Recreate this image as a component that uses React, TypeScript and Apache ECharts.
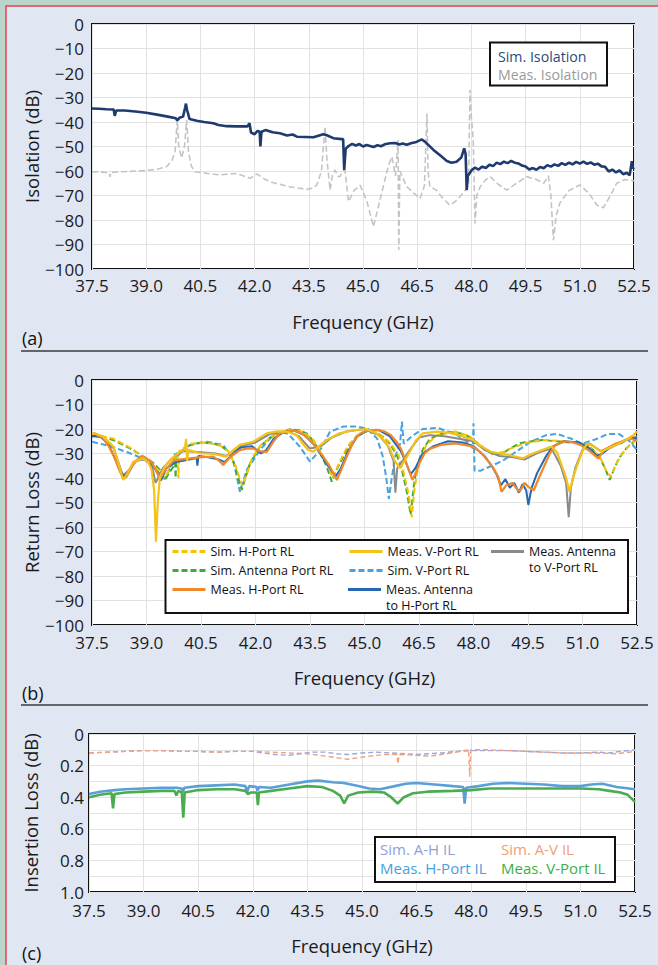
import React, { useEffect, useRef } from "react";
import * as echarts from "echarts";

type Pt = [number, number];

// ---------- Panel (a): Isolation ----------
const simIsolation: Pt[] = [
  [37.5, -34.5], [37.7, -34.6], [37.9, -34.8], [38.1, -34.9], [38.13, -37.5], [38.17, -35.3], [38.4, -35.3],
  [38.7, -35.7], [39.0, -36.2], [39.3, -37], [39.6, -37.8], [39.82, -38.5], [39.86, -39.4], [39.92, -38.3],
  [40.02, -37.8], [40.08, -34], [40.1, -32.5], [40.13, -35], [40.2, -38.8], [40.4, -39.5], [40.6, -40],
  [40.86, -40.5], [41.0, -41.2], [41.23, -41.7], [41.5, -41.8], [41.8, -41.8], [41.86, -40.5], [41.9, -44.3],
  [42.0, -45], [42.08, -43.6], [42.14, -44], [42.16, -50], [42.19, -44], [42.3, -43.3], [42.5, -44.2],
  [42.7, -44.6], [42.9, -45.5], [43.05, -45.1], [43.17, -46], [43.4, -46.1], [43.63, -46.2], [43.9, -45],
  [44.0, -45.4], [44.18, -46.6], [44.41, -47], [44.45, -47], [44.48, -59.6], [44.52, -51], [44.6, -49.8],
  [44.7, -48.9], [44.8, -49.6], [44.9, -49], [45.0, -50], [45.1, -49.4], [45.29, -50.2], [45.4, -49.5],
  [45.5, -49.9], [45.6, -49.1], [45.75, -48.7], [45.9, -48.6], [46.0, -49.2], [46.1, -48.8], [46.21, -49.3],
  [46.35, -48.6], [46.45, -48.3], [46.63, -47.1], [46.75, -48.5], [46.95, -51.4], [47.15, -53.8], [47.32, -55.9],
  [47.45, -56.6], [47.59, -56.2], [47.72, -54.5], [47.8, -50.8], [47.84, -53], [47.87, -67.8], [47.9, -62],
  [48.01, -59.6], [48.1, -58.6], [48.2, -59.4], [48.3, -58.2], [48.4, -58.8], [48.5, -57.4], [48.6, -58],
  [48.7, -56.6], [48.8, -57.2], [48.9, -56.2], [49.0, -56.8], [49.1, -55.9], [49.2, -56.6], [49.3, -56.9],
  [49.4, -57.8], [49.5, -58.2], [49.6, -59.4], [49.7, -58.8], [49.8, -59.5], [49.9, -58.4], [50.0, -58.9],
  [50.1, -57.6], [50.2, -58.2], [50.3, -57.3], [50.4, -57.9], [50.5, -56.8], [50.6, -57.5], [50.7, -56.6],
  [50.8, -57.3], [50.9, -56.3], [51.0, -57], [51.1, -56.2], [51.2, -57.1], [51.3, -56.5], [51.4, -57.4],
  [51.5, -57], [51.6, -58.1], [51.7, -58.3], [51.8, -60.2], [51.9, -59.4], [52.0, -60.6], [52.1, -59.8],
  [52.2, -61.3], [52.3, -60.7], [52.38, -61.8], [52.44, -56], [52.47, -59], [52.5, -58.5],
];

const measIsolation: Pt[] = [
  [37.5, -60.3], [37.8, -60.5], [37.98, -60.8], [38.0, -62.4], [38.03, -60.5], [38.5, -60.2], [39.0, -59.8],
  [39.3, -59.3], [39.57, -58.2], [39.72, -55.5], [39.8, -52], [39.86, -39.2], [39.9, -50], [39.98, -54.7],
  [40.06, -50], [40.12, -39.2], [40.17, -52], [40.25, -58], [40.35, -60.3], [40.7, -61], [41.04, -61.6],
  [41.3, -61.2], [41.5, -61], [41.7, -62], [41.87, -63], [42.06, -61.2], [42.3, -63.5], [42.52, -64.8],
  [43.0, -66.5], [43.44, -67.5], [43.6, -67], [43.72, -65.8], [43.85, -60], [43.95, -41.9], [44.0, -55],
  [44.09, -67.8], [44.16, -61], [44.23, -59.6], [44.3, -62], [44.36, -62.4], [44.44, -60], [44.5, -59.6],
  [44.6, -72.5], [44.75, -68], [44.92, -65.8], [45.1, -72], [45.29, -82.7], [45.5, -70], [45.7, -58],
  [45.8, -54.2], [45.9, -62], [45.97, -47.3], [45.99, -92.2], [46.02, -60], [46.21, -66.4], [46.4, -69],
  [46.58, -71.2], [46.7, -66], [46.77, -36.5], [46.8, -60], [46.85, -66.4], [47.03, -67.8], [47.2, -71],
  [47.4, -73.9], [47.55, -72.5], [47.68, -70.5], [47.85, -67.5], [47.92, -66], [47.96, -26.9], [48.0, -38],
  [48.05, -47], [48.1, -81.4], [48.15, -70], [48.24, -66.5], [48.4, -63.5], [48.52, -62.3], [48.75, -65.5],
  [48.98, -67.8], [49.25, -65], [49.53, -62.3], [49.8, -63.5], [50.0, -65], [50.13, -62], [50.2, -70],
  [50.27, -88.2], [50.35, -78], [50.45, -73], [50.7, -68], [51.0, -65.7], [51.25, -69], [51.47, -73.9],
  [51.65, -75], [51.85, -70], [52.02, -65], [52.25, -63.5], [52.5, -64],
];

// ---------- Panel (b): Return loss ----------
const simHPortRL: Pt[] = [
  [37.5, -22], [38.1, -24], [38.6, -28], [39.0, -32.5], [39.35, -37], [39.5, -40], [39.65, -36], [39.85, -30],
  [39.88, -40], [39.9, -29], [40.2, -26], [40.6, -25.5], [41.0, -26.5], [41.25, -29], [41.45, -35], [41.63, -43],
  [41.75, -39], [41.9, -32], [42.15, -26.5], [42.5, -22.5], [42.9, -20.2], [43.3, -21], [43.6, -24.5],
  [43.8, -29.5], [44.0, -35], [44.12, -40], [44.3, -34], [44.5, -28], [44.8, -22.5], [45.1, -20.5], [45.4, -22],
  [45.7, -25.5], [45.95, -31], [46.1, -39], [46.22, -47], [46.3, -56], [46.38, -44], [46.5, -34], [46.7, -26.5],
  [47.0, -22.5], [47.5, -21], [47.9, -23], [48.2, -27], [48.5, -30], [48.8, -29.5], [49.1, -27.5], [49.5, -25.5],
  [50.0, -24.5], [50.5, -25], [51.0, -26], [51.3, -28.5], [51.5, -32], [51.65, -37], [51.78, -39.5], [51.9, -35],
  [52.1, -30], [52.3, -26.5], [52.5, -24],
];

const simAntennaRL: Pt[] = [
  [37.5, -22.4], [38.09, -24.5], [38.55, -27.9], [39.0, -32], [39.2, -34], [39.37, -36.7], [39.51, -40.8],
  [39.62, -38], [39.74, -35.4], [39.78, -30], [39.8, -40], [39.83, -30], [39.95, -29], [40.2, -26.5],
  [40.5, -25.5], [40.84, -25.9], [41.05, -27], [41.21, -28.6], [41.35, -32], [41.44, -35.4], [41.62, -44.9],
  [41.72, -40], [41.85, -34], [42.12, -27.2], [42.4, -23.5], [42.67, -21.8], [42.95, -20.1], [43.2, -20.5],
  [43.41, -21.8], [43.6, -25], [43.78, -29.9], [43.95, -35], [44.1, -41.5], [44.25, -36], [44.42, -31.3],
  [44.6, -26], [44.79, -23.1], [45.0, -21], [45.25, -21.5], [45.5, -23], [45.7, -26], [45.9, -31], [46.05, -38],
  [46.17, -46], [46.27, -55], [46.36, -43], [46.45, -35], [46.6, -28.5], [46.8, -24], [47.1, -22], [47.5, -21.2],
  [47.8, -22.5], [48.05, -25], [48.3, -28], [48.55, -30.5], [48.8, -30], [49.0, -28], [49.3, -25.7], [49.6, -25],
  [49.9, -24.5], [50.3, -25], [50.7, -25.5], [51.0, -26], [51.25, -28], [51.45, -31], [51.62, -36], [51.75, -40.8],
  [51.88, -36], [52.0, -32], [52.2, -28], [52.5, -24],
];

const measHPortRL: Pt[] = [
  [37.5, -22], [37.58, -21.8], [37.8, -23.5], [37.96, -27], [38.1, -31], [38.25, -36.7], [38.36, -40.3],
  [38.45, -39.5], [38.6, -35], [38.82, -31.3], [39.0, -32], [39.14, -33.5], [39.25, -36.5], [39.37, -40.5],
  [39.5, -37], [39.74, -33], [39.9, -32.5], [40.2, -32], [40.5, -31.5], [40.84, -31.3], [41.0, -33],
  [41.11, -34.7], [41.3, -31.5], [41.57, -28.6], [41.75, -28], [41.94, -28], [42.1, -29], [42.31, -29.3],
  [42.5, -25], [42.67, -21.8], [43.04, -20.4], [43.3, -22], [43.59, -25.9], [43.85, -31], [44.05, -35.4],
  [44.24, -40.8], [44.35, -37], [44.51, -31.3], [44.7, -25], [44.88, -21.8], [45.1, -20.5], [45.36, -20.3],
  [45.55, -21], [45.72, -22.4], [45.9, -25.5], [46.02, -28.6], [46.2, -36], [46.32, -40.8], [46.45, -36.5],
  [46.51, -34], [46.65, -30], [46.81, -28], [47.1, -26.5], [47.5, -25.9], [47.75, -26.5], [47.99, -27.2],
  [48.2, -29.5], [48.38, -32.7], [48.55, -36], [48.68, -39.5], [48.77, -45.6], [48.9, -43], [49.07, -42],
  [49.17, -44], [49.27, -45.6], [49.41, -42], [49.5, -43.5], [49.66, -45], [49.8, -40], [49.95, -35],
  [50.1, -30], [50.25, -26.5], [50.54, -25], [50.75, -25.5], [50.94, -26.5], [51.2, -29], [51.43, -32],
  [51.6, -28.5], [51.92, -25.9], [52.1, -25], [52.31, -23.8], [52.5, -25],
];

const measVPortRL: Pt[] = [
  [37.5, -22], [37.58, -21.8], [37.8, -23], [38.09, -27.2], [38.25, -35], [38.36, -40.8], [38.48, -38],
  [38.64, -33.3], [38.91, -32], [39.05, -33.5], [39.14, -36.7], [39.21, -45], [39.26, -66], [39.31, -50],
  [39.37, -39.5], [39.5, -35.5], [39.65, -32.7], [39.92, -29.3], [40.05, -28.5], [40.09, -24], [40.12, -33],
  [40.15, -28.5], [40.47, -29.9], [40.84, -30.2], [41.2, -31.3], [41.4, -28.5], [41.57, -26.5], [41.94, -25.2],
  [42.31, -21.8], [42.6, -21], [42.86, -21.1], [43.13, -22.4], [43.3, -26], [43.45, -28.6], [43.59, -29.3],
  [43.75, -27], [43.96, -24.5], [44.3, -21.8], [44.7, -20.5], [45.04, -20], [45.3, -21.5], [45.53, -24.5],
  [45.7, -28], [45.82, -32.7], [45.97, -36], [46.1, -33], [46.22, -30], [46.4, -25], [46.6, -21.8], [47.0, -21.1],
  [47.3, -21.5], [47.59, -22.4], [47.99, -24.5], [48.2, -27], [48.48, -29.3], [48.97, -30.6], [49.36, -32],
  [49.55, -30.5], [49.76, -29.3], [50.15, -27.2], [50.3, -29.5], [50.44, -35.4], [50.55, -40], [50.64, -45.6],
  [50.72, -41], [50.84, -35.4], [51.0, -29], [51.13, -25.9], [51.3, -27], [51.52, -29.3], [51.7, -28],
  [51.92, -26.5], [52.2, -24.5], [52.41, -22.4], [52.5, -21],
];

const simVPortRL: Pt[] = [
  [37.5, -25.2], [38.0, -27], [38.55, -29.9], [39.0, -32.7], [39.37, -38.1], [39.5, -40.5], [39.65, -36],
  [39.83, -31.3], [40.2, -26.5], [40.66, -25.2], [41.11, -26.5], [41.39, -32.7], [41.57, -45.6], [41.76, -36.7],
  [42.12, -28.6], [42.45, -23], [42.67, -21.1], [42.9, -22], [43.22, -27.2], [43.5, -33.3], [43.78, -28.6],
  [44.05, -21.1], [44.42, -19], [44.8, -19], [45.1, -20], [45.35, -24], [45.5, -31], [45.6, -40], [45.67, -48.5],
  [45.75, -40], [45.85, -31], [45.98, -26], [46.03, -17], [46.08, -26], [46.3, -23], [46.6, -20], [47.0, -19.5],
  [47.5, -22], [47.9, -26], [47.98, -28], [48.0, -17.7], [48.03, -37], [48.2, -37], [48.5, -35], [48.8, -33],
  [49.2, -29], [49.6, -25], [50.0, -22.5], [50.3, -22], [50.7, -24], [51.0, -26], [51.4, -24], [51.7, -22],
  [52.0, -22], [52.3, -25], [52.5, -28.6],
];

const measAntHPortRL: Pt[] = [
  [37.5, -23], [37.7, -22.5], [37.96, -26.5], [38.25, -36], [38.38, -39.5], [38.5, -38], [38.65, -34],
  [38.85, -31.5], [39.1, -33], [39.3, -38], [39.4, -41], [39.55, -36], [39.8, -33.5], [40.0, -33], [40.38, -31.8],
  [40.4, -35], [40.43, -31], [40.7, -31.5], [41.0, -32.5], [41.15, -33.5], [41.4, -30], [41.6, -27.5],
  [41.9, -27], [42.15, -30], [42.3, -28.5], [42.5, -24], [42.75, -21.5], [43.05, -20.5], [43.35, -22.5],
  [43.65, -27], [43.95, -34], [44.2, -39.5], [44.35, -36], [44.55, -29], [44.8, -23], [45.1, -20.5],
  [45.4, -20.5], [45.7, -23], [46.0, -29], [46.15, -34], [46.27, -38.5], [46.4, -36], [46.6, -30], [46.9, -27],
  [47.3, -25], [47.7, -25.5], [48.0, -27], [48.3, -31], [48.5, -35], [48.65, -39], [48.75, -43], [48.88, -40.5],
  [49.0, -44], [49.12, -42], [49.25, -46], [49.35, -42.5], [49.45, -45], [49.51, -51], [49.6, -44], [49.75, -38],
  [50.0, -31], [50.2, -27], [50.5, -25], [50.9, -25.5], [51.2, -28], [51.4, -31], [51.55, -30], [51.8, -27],
  [52.1, -25.5], [52.3, -23.5], [52.5, -24],
];

const measAntVPortRL: Pt[] = [
  [37.5, -23], [37.8, -23.5], [38.1, -28], [38.35, -39], [38.5, -37], [38.7, -33], [38.95, -32.5], [39.15, -35],
  [39.25, -42], [39.32, -40], [39.45, -36], [39.7, -32], [40.0, -29], [40.5, -29.5], [40.9, -30], [41.2, -31],
  [41.6, -27], [42.0, -25.5], [42.4, -22], [42.9, -21], [43.2, -23], [43.5, -28], [43.8, -27], [44.1, -23.5],
  [44.5, -21], [45.0, -20], [45.4, -22.5], [45.65, -27], [45.8, -33], [45.85, -46], [45.9, -36], [46.05, -33],
  [46.25, -28.5], [46.5, -23.5], [46.8, -22.5], [47.2, -23], [47.6, -24], [48.0, -25], [48.3, -28.5],
  [48.7, -31], [49.1, -31.5], [49.4, -32.5], [49.8, -29.5], [50.15, -28], [50.4, -35], [50.55, -42],
  [50.62, -56], [50.68, -44], [50.8, -36], [51.0, -28.5], [51.2, -26], [51.5, -29], [51.8, -27.5], [52.1, -25],
  [52.5, -23],
];

// ---------- Panel (c): Insertion loss ----------
const simAHIL: Pt[] = [
  [37.5, 0.12], [38.0, 0.115], [38.5, 0.11], [39.0, 0.105], [39.5, 0.105], [40.0, 0.11], [40.5, 0.11],
  [41.0, 0.115], [41.5, 0.11], [42.0, 0.11], [42.3, 0.12], [42.6, 0.13], [43.0, 0.135], [43.3, 0.125],
  [43.6, 0.115], [44.0, 0.115], [44.3, 0.125], [44.6, 0.13], [45.0, 0.12], [45.4, 0.115], [45.8, 0.12],
  [46.2, 0.125], [46.5, 0.13], [46.8, 0.125], [47.2, 0.12], [47.6, 0.11], [48.0, 0.105], [48.5, 0.105],
  [49.0, 0.105], [49.5, 0.11], [50.0, 0.115], [50.5, 0.12], [51.0, 0.12], [51.5, 0.115], [51.8, 0.12],
  [52.1, 0.11], [52.5, 0.1],
];

const simAVIL: Pt[] = [
  [37.5, 0.12], [38.0, 0.115], [38.5, 0.11], [39.0, 0.105], [39.5, 0.105], [40.0, 0.11], [40.5, 0.11],
  [41.0, 0.115], [41.5, 0.11], [42.0, 0.11], [42.5, 0.115], [43.0, 0.12], [43.5, 0.125], [44.0, 0.14],
  [44.3, 0.15], [44.6, 0.16], [44.9, 0.15], [45.2, 0.14], [45.6, 0.13], [45.96, 0.13], [45.99, 0.19],
  [46.02, 0.13], [46.5, 0.135], [46.9, 0.14], [47.3, 0.125], [47.7, 0.11], [47.93, 0.1], [47.96, 0.27],
  [47.99, 0.1], [48.5, 0.1], [49.0, 0.105], [49.5, 0.11], [50.0, 0.115], [50.5, 0.12], [51.0, 0.12],
  [51.5, 0.12], [52.0, 0.125], [52.5, 0.11],
];

const measHIL: Pt[] = [
  [37.5, 0.38], [37.8, 0.365], [38.2, 0.355], [38.5, 0.35], [39.0, 0.345], [39.5, 0.34], [39.9, 0.34],
  [40.05, 0.345], [40.08, 0.37], [40.12, 0.34], [40.5, 0.33], [41.0, 0.325], [41.5, 0.32], [41.8, 0.33],
  [41.84, 0.37], [41.9, 0.33], [42.1, 0.335], [42.13, 0.36], [42.17, 0.335], [42.5, 0.34], [43.0, 0.32],
  [43.5, 0.3], [43.8, 0.295], [44.2, 0.305], [44.5, 0.31], [44.8, 0.325], [45.2, 0.345], [45.5, 0.35],
  [45.9, 0.33], [46.2, 0.315], [46.5, 0.31], [47.0, 0.32], [47.5, 0.33], [47.78, 0.335], [47.82, 0.44],
  [47.86, 0.34], [48.2, 0.33], [48.6, 0.315], [49.0, 0.31], [49.5, 0.315], [50.0, 0.32], [50.5, 0.33],
  [51.0, 0.33], [51.3, 0.32], [51.6, 0.315], [52.0, 0.335], [52.5, 0.35],
];

const measVIL: Pt[] = [
  [37.5, 0.4], [37.8, 0.385], [38.12, 0.375], [38.16, 0.47], [38.2, 0.38], [38.5, 0.37], [39.0, 0.365],
  [39.5, 0.36], [39.85, 0.36], [39.9, 0.39], [39.95, 0.36], [40.05, 0.37], [40.09, 0.53], [40.13, 0.37],
  [40.5, 0.355], [41.0, 0.35], [41.5, 0.35], [41.8, 0.36], [41.86, 0.38], [41.95, 0.37], [42.11, 0.37],
  [42.14, 0.45], [42.17, 0.37], [42.5, 0.36], [43.0, 0.345], [43.5, 0.33], [43.9, 0.335], [44.2, 0.36],
  [44.4, 0.39], [44.51, 0.44], [44.62, 0.39], [44.9, 0.37], [45.3, 0.365], [45.6, 0.37], [45.8, 0.4],
  [45.98, 0.44], [46.15, 0.4], [46.4, 0.375], [46.8, 0.365], [47.5, 0.36], [48.0, 0.355], [48.5, 0.345],
  [49.0, 0.345], [49.5, 0.345], [50.0, 0.345], [50.5, 0.345], [51.0, 0.345], [51.5, 0.35], [51.8, 0.36],
  [52.1, 0.37], [52.3, 0.385], [52.5, 0.43],
];

const FONT = "Open Sans";
const GRID_LINE = "#e2e2e2";

function xAxisFor(gridIndex: number, margin: number, nameGap: number) {
  return {
    type: "value",
    gridIndex,
    min: 37.5,
    max: 52.5,
    interval: 1.5,
    axisLine: { show: false },
    axisTick: { show: false },
    axisLabel: {
      margin,
      fontSize: 17,
      color: "#1a1a1a",
      fontFamily: FONT,
      formatter: (v: number) => v.toFixed(1),
    },
    splitLine: { show: true, lineStyle: { color: GRID_LINE, width: 1 } },
    name: "Frequency (GHz)",
    nameLocation: "middle",
    nameGap,
    nameTextStyle: { fontSize: 18.5, color: "#1a1a1a", fontFamily: FONT },
  };
}

const dbFormatter = (v: number) => (v < 0 ? "\u2212" + Math.abs(v) : "0");

function dbAxis(gridIndex: number, name: string) {
  return {
    type: "value",
    gridIndex,
    min: -100,
    max: 0,
    interval: 10,
    axisLine: { show: false },
    axisTick: { show: false },
    axisLabel: { margin: 8, fontSize: 17, color: "#1a1a1a", fontFamily: FONT, formatter: dbFormatter },
    splitLine: { show: true, lineStyle: { color: GRID_LINE, width: 1 } },
    name,
    nameLocation: "middle",
    nameMoveOverlap: false,
    nameGap: 51.5,
    nameTextStyle: { fontSize: 18.5, color: "#1a1a1a", fontFamily: FONT },
  };
}

function lineSeries(name: string, data: Pt[], idx: number, color: string, width: number, dashed?: number[]) {
  return {
    type: "line",
    name,
    xAxisIndex: idx,
    yAxisIndex: idx,
    data,
    symbol: "none",
    showSymbol: false,
    clip: true,
    lineStyle: { color, width, type: dashed ? dashed : "solid" },
    itemStyle: { color },
    emphasis: { disabled: true },
  };
}

const C = {
  simIso: "#1e3a6f",
  measIso: "#c4c4c4",
  simH: "#f5c400",
  simAnt: "#3daa3a",
  measH: "#f0892d",
  measV: "#f3c21b",
  simV: "#4aa2dd",
  measAH: "#2467b3",
  measAV: "#8a8a8a",
  simAH: "#9aa8dc",
  simAV: "#f2a07c",
  measHIL: "#5b9fd9",
  measVIL: "#4aac4f",
};

const textLegend = (left: number, top: number, items: { name: string; color: string }[], fontSize: number, lh: number, gap: number) => ({
  orient: "vertical",
  left,
  top,
  itemWidth: 0,
  itemHeight: 0,
  itemGap: gap,
  selectedMode: false,
  itemStyle: { opacity: 0 },
  lineStyle: { opacity: 0 },
  data: items.map((it) => ({ name: it.name, textStyle: { color: it.color } })),
  textStyle: { fontSize, lineHeight: lh, fontFamily: FONT },
});

const LEGEND_FONT = 12.5;
const LEGEND_LH = 16;

const lineLegend = (left: number, top: number, names: string[]) => ({
  orient: "vertical",
  left,
  top,
  itemWidth: 33,
  itemHeight: 10,
  itemGap: 3,
  selectedMode: false,
  itemStyle: { opacity: 0 },
  lineStyle: { width: 3 },
  data: names,
  textStyle: { fontSize: LEGEND_FONT, lineHeight: LEGEND_LH, color: "#111", fontFamily: FONT },
});

// icon: 3px bar aligned with the first text line of a two-line legend entry (bbox 33 x 32)
const TOP_BAR_ICON = "path://M0,6.5L33,6.5L33,9.5L0,9.5Z M0,0L0.1,0L0.1,0.1L0,0.1Z M32.9,31.9L33,31.9L33,32L32.9,32Z";

const twoLineLegend = (left: number, top: number, name: string) => ({
  orient: "vertical",
  left,
  top,
  itemWidth: 33,
  itemHeight: 32,
  selectedMode: false,
  itemStyle: { borderWidth: 0 },
  data: [{ name, icon: TOP_BAR_ICON }],
  textStyle: { fontSize: LEGEND_FONT, lineHeight: LEGEND_LH, color: "#111", fontFamily: FONT },
});

const option = {
  animation: false,
  backgroundColor: "#b9d4cb",
  textStyle: { fontFamily: FONT },
  grid: [
    { left: 92, top: 24, width: 542, height: 245, show: true, backgroundColor: "#ffffff", borderColor: "#111", borderWidth: 2 },
    { left: 92, top: 380, width: 545, height: 245, show: true, backgroundColor: "#ffffff", borderColor: "#111", borderWidth: 2 },
    { left: 89, top: 734, width: 546, height: 158, show: true, backgroundColor: "#ffffff", borderColor: "#111", borderWidth: 2 },
  ],
  xAxis: [xAxisFor(0, 8, 43), xAxisFor(1, 9, 43), xAxisFor(2, 10, 44)],
  yAxis: [
    dbAxis(0, "Isolation (dB)"),
    dbAxis(1, "Return Loss (dB)"),
    {
      type: "value",
      gridIndex: 2,
      min: 0,
      max: 1,
      interval: 0.2,
      inverse: true,
      axisLine: { show: false },
      axisTick: { show: false },
      minorTick: { show: false, splitNumber: 2 },
      minorSplitLine: { show: true, lineStyle: { color: GRID_LINE, width: 1 } },
      axisLabel: {
        margin: 5,
        fontSize: 17,
        color: "#1a1a1a",
        fontFamily: FONT,
        formatter: (v: number) => (v === 0 ? "0" : v.toFixed(1)),
      },
      splitLine: { show: true, lineStyle: { color: GRID_LINE, width: 1 } },
      name: "Insertion Loss (dB)",
      nameLocation: "middle",
      nameMoveOverlap: false,
      nameGap: 49,
      nameTextStyle: { fontSize: 18.5, color: "#1a1a1a", fontFamily: FONT },
    },
  ],
  legend: [
    textLegend(487, 42, [
      { name: "Sim. Isolation", color: "#2b4a80" },
      { name: "Meas. Isolation", color: "#9a9a9a" },
    ], 14.2, 18, 0),
    lineLegend(166, 538.5, ["Sim. H-Port RL", "Sim. Antenna Port RL", "Meas. H-Port RL"]),
    lineLegend(343, 538.5, ["Meas. V-Port RL", "Sim. V-Port RL"]),
    twoLineLegend(343, 576.5, "Meas. Antenna\nto H-Port RL"),
    twoLineLegend(486, 538.5, "Meas. Antenna\nto V-Port RL"),
    textLegend(369, 836, [
      { name: "Sim. A-H IL", color: "#8e9fd8" },
      { name: "Meas. H-Port IL", color: "#47a0e2" },
    ], 15, 16, 3),
    textLegend(490, 836, [
      { name: "Sim. A-V IL", color: "#f0a078" },
      { name: "Meas. V-Port IL", color: "#3cb043" },
    ], 15, 16, 3),
  ],
  series: [
    lineSeries("Meas. Isolation", measIsolation, 0, C.measIso, 1.6, [6, 3]),
    lineSeries("Sim. Isolation", simIsolation, 0, C.simIso, 2.6),

    lineSeries("Sim. V-Port RL", simVPortRL, 1, C.simV, 2, [6, 3]),
    lineSeries("Sim. Antenna Port RL", simAntennaRL, 1, C.simAnt, 2, [6, 3]),
    lineSeries("Sim. H-Port RL", simHPortRL, 1, C.simH, 2, [6, 3]),
    lineSeries("Meas. Antenna\nto V-Port RL", measAntVPortRL, 1, C.measAV, 2),
    lineSeries("Meas. Antenna\nto H-Port RL", measAntHPortRL, 1, C.measAH, 2),
    lineSeries("Meas. H-Port RL", measHPortRL, 1, C.measH, 2.2),
    lineSeries("Meas. V-Port RL", measVPortRL, 1, C.measV, 2.2),

    lineSeries("Sim. A-H IL", simAHIL, 2, C.simAH, 1.4, [5, 3]),
    lineSeries("Sim. A-V IL", simAVIL, 2, C.simAV, 1.4, [5, 3]),
    lineSeries("Meas. H-Port IL", measHIL, 2, C.measHIL, 2.6),
    lineSeries("Meas. V-Port IL", measVIL, 2, C.measVIL, 2.6),
  ],
  graphic: [
    {
      type: "rect",
      z: -10,
      shape: { x: 6, y: 6, width: 720, height: 1000 },
      style: { fill: "#e1e6f3", stroke: "#e2454d", lineWidth: 1.5 },
      silent: true,
    },
    { type: "rect", z: 3, shape: { x: 490, y: 42.5, width: 117, height: 43 }, style: { fill: "#fff", stroke: "#111", lineWidth: 2 }, silent: true },
    { type: "rect", z: 3, shape: { x: 165.5, y: 540, width: 462.5, height: 73 }, style: { fill: "#fff", stroke: "#111", lineWidth: 2 }, silent: true },
    { type: "rect", z: 3, shape: { x: 375, y: 837, width: 240, height: 45 }, style: { fill: "#fff", stroke: "#111", lineWidth: 2 }, silent: true },
    { type: "line", shape: { x1: 21, y1: 351, x2: 648, y2: 351 }, style: { stroke: "#3a3a3a", lineWidth: 1.5 }, silent: true },
    { type: "line", shape: { x1: 21, y1: 705, x2: 648, y2: 705 }, style: { stroke: "#3a3a3a", lineWidth: 1.5 }, silent: true },
    { type: "text", x: 22, y: 338, style: { text: "(a)", fill: "#111", fontSize: 18, fontFamily: FONT, verticalAlign: "middle" }, silent: true },
    { type: "text", x: 22, y: 693, style: { text: "(b)", fill: "#111", fontSize: 18, fontFamily: FONT, verticalAlign: "middle" }, silent: true },
    { type: "text", x: 22, y: 953, style: { text: "(c)", fill: "#111", fontSize: 18, fontFamily: FONT, verticalAlign: "middle" }, silent: true },
  ],
};

export default function App() {
  const ref = useRef<HTMLDivElement>(null);
  useEffect(() => {
    document.body.style.margin = "0";
    const chart = echarts.init(ref.current as HTMLDivElement, null, { renderer: "svg" });
    chart.setOption(option as any);
    return () => chart.dispose();
  }, []);
  return <div ref={ref} style={{ position: "absolute", left: 0, top: 0, width: 658, height: 965 }} />;
}
